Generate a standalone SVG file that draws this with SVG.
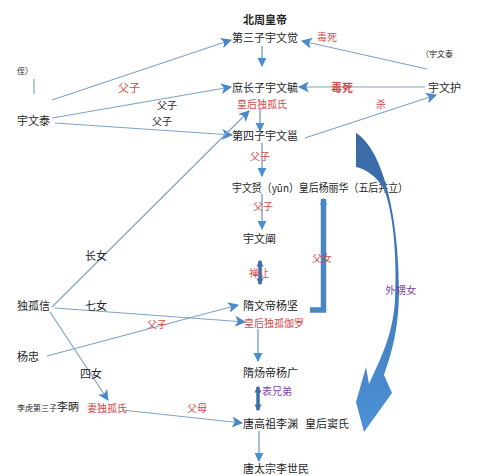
<svg xmlns="http://www.w3.org/2000/svg" width="492" height="476" viewBox="0 0 492 476">
<style>
text{font-family:"Noto Sans CJK SC","Noto Sans",sans-serif;dominant-baseline:central;fill:#262626}
.n{font-size:11px}
.b{font-size:11px;font-weight:bold}
.s{font-size:8px}
.r{fill:#cf4a4a;font-size:10px}
.k{font-size:10px}
.p{fill:#7d44a8;font-size:10px}
.ln{stroke:#7ea3c4;stroke-width:1.2;fill:none}
.dn{stroke:#7fa9d6;stroke-width:1.5;fill:none}
.th{stroke:#3d6fa6;stroke-width:3.5;fill:none}
</style>
<defs>
<marker id="ah" viewBox="0 0 10 10" refX="9" refY="5" markerWidth="13" markerHeight="11" markerUnits="userSpaceOnUse" orient="auto">
<path d="M0,0 L10,5 L0,10 L2.5,5 z" fill="#4a88c8"/>
</marker>
<marker id="dh" viewBox="0 0 10 10" refX="9" refY="5" markerWidth="9" markerHeight="14" markerUnits="userSpaceOnUse" orient="auto">
<path d="M0,0 L10,5 L0,10 z" fill="#4a8fd2"/>
</marker>
<marker id="tk" viewBox="0 0 10 10" refX="8" refY="5" markerWidth="7" markerHeight="9" markerUnits="userSpaceOnUse" orient="auto-start-reverse">
<path d="M0,0 L10,5 L0,10 z" fill="#3d6fa6"/>
</marker>
<marker id="fa" viewBox="0 0 10 10" refX="8" refY="5" markerWidth="7" markerHeight="12" markerUnits="userSpaceOnUse" orient="auto">
<path d="M0,0 L10,5 L0,10 z" fill="#4a86c0"/>
</marker>
<linearGradient id="cg" x1="0" y1="0" x2="0" y2="1">
<stop offset="0" stop-color="#3a6aa3"/>
<stop offset="0.45" stop-color="#3f78b8"/>
<stop offset="1" stop-color="#4d91d6"/>
</linearGradient>
</defs>

<g id="connectors">
<line class="ln" x1="52" y1="100" x2="231" y2="40" marker-end="url(#ah)"/>
<line class="ln" x1="52" y1="118" x2="231" y2="87" marker-end="url(#ah)"/>
<line class="ln" x1="55" y1="123" x2="232" y2="135" marker-end="url(#ah)"/>
<line class="ln" x1="427" y1="69" x2="302" y2="41" marker-end="url(#ah)"/>
<line class="ln" x1="425" y1="87" x2="299" y2="87" marker-end="url(#ah)"/>
<line class="ln" x1="305" y1="138" x2="436" y2="95" marker-end="url(#ah)"/>
<line class="ln" x1="52" y1="307" x2="249" y2="111" marker-end="url(#ah)"/>
<line class="ln" x1="55" y1="308" x2="245" y2="322" marker-end="url(#ah)"/>
<line class="ln" x1="47" y1="356" x2="238" y2="305" marker-end="url(#ah)"/>
<line class="ln" x1="50" y1="312" x2="108" y2="400" marker-end="url(#ah)"/>
<line class="ln" x1="122" y1="410" x2="242" y2="423" marker-end="url(#ah)"/>
<line class="ln" x1="34" y1="79" x2="34" y2="94"/>
<line class="dn" x1="262" y1="46" x2="262" y2="66" marker-end="url(#dh)"/>
<line class="dn" x1="260" y1="109" x2="260" y2="131" marker-end="url(#dh)"/>
<line class="dn" x1="262" y1="143" x2="262" y2="176" marker-end="url(#dh)"/>
<line class="dn" x1="262" y1="194" x2="262" y2="229" marker-end="url(#dh)"/>
<line class="dn" x1="258" y1="329" x2="258" y2="361" marker-end="url(#dh)"/>
<line class="dn" x1="259" y1="431" x2="259" y2="461" marker-end="url(#dh)"/>
<line class="th" x1="260" y1="261" x2="260" y2="284" marker-start="url(#tk)" marker-end="url(#tk)"/>
<line class="th" x1="258" y1="387" x2="258" y2="410" marker-start="url(#tk)" marker-end="url(#tk)"/>
<path d="M310,310 L323.5,310 L323.5,199" stroke="#4a86c0" stroke-width="5.5" fill="none" marker-end="url(#fa)"/>
</g>

<g id="n-beizhou"><text class="b" x="243" y="19">北周皇帝</text></g>
<g id="n-jue"><text class="n" x="232" y="37">第三子宇文觉</text></g>
<g id="n-yu"><text class="n" x="232" y="87">庶长子宇文毓</text><text class="r" x="237" y="103">皇后独孤氏</text></g>
<g id="n-yong"><text class="n" x="232" y="135">第四子宇文邕</text></g>
<g id="n-yun"><text class="n" x="232" y="187" textLength="176" lengthAdjust="spacingAndGlyphs">宇文赟（yūn）皇后杨丽华（五后并立）</text></g>
<g id="n-chan"><text class="n" x="243" y="238">宇文阐</text></g>
<g id="n-jian"><text class="n" x="243" y="305">隋文帝杨坚</text><text class="r" x="244" y="322">皇后独孤伽罗</text></g>
<g id="n-guang"><text class="n" x="243" y="372">隋炀帝杨广</text></g>
<g id="n-yuan"><text class="n" x="243" y="423">唐高祖李渊</text><text class="n" x="305" y="423">皇后窦氏</text></g>
<g id="n-shimin"><text class="n" x="243" y="468">唐太宗李世民</text></g>
<g id="n-tai"><text class="n" x="17" y="120">宇文泰</text></g>
<g id="n-hu"><text class="n" x="428" y="87">宇文护</text><text class="s" x="421" y="53">（宇文泰</text><text class="s" x="17" y="70">侄）</text></g>
<g id="n-dugu"><text class="n" x="17" y="305">独孤信</text></g>
<g id="n-zhong"><text class="n" x="17" y="356">杨忠</text></g>
<g id="n-bing"><text class="s" x="17" y="407">李虎第三子</text><text class="n" x="57" y="406">李昞</text><text class="r" x="87" y="407">妻独孤氏</text></g>

<g id="labels">
<text class="r" x="118" y="87" style="font-size:11px">父子</text>
<text class="k" x="157" y="104">父子</text>
<text class="k" x="152" y="120">父子</text>
<text class="r" x="317" y="36">毒死</text>
<text class="r" x="331" y="87" style="font-size:11px;font-weight:bold">毒死</text>
<text class="r" x="376" y="103">杀</text>
<text class="r" x="250" y="155">父子</text>
<text class="r" x="253" y="205">父子</text>
<text class="r" x="249" y="272">禅让</text>
<text class="r" x="312" y="257">父女</text>
<text class="n" x="85" y="255">长女</text>
<text class="n" x="85" y="305">七女</text>
<text class="r" x="147" y="323">父子</text>
<text class="n" x="80" y="373">四女</text>
<text class="r" x="187" y="407">父母</text>
<text class="p" x="262" y="390">表兄弟</text>
</g>

<g id="curve-arrow">
<path d="M356,133 C384,150 399,220 399,290 C399,330 391,355 384,375 L392,393 L364,432 L356,402 L366,367 L369,384 C380,360 393,335 395,300 C397,260 394,215 384,189 C376,176 366,169 356,167 Z" fill="url(#cg)"/>
<text class="p" x="385" y="289" style="font-size:10.5px">外甥女</text>
</g>
</svg>
